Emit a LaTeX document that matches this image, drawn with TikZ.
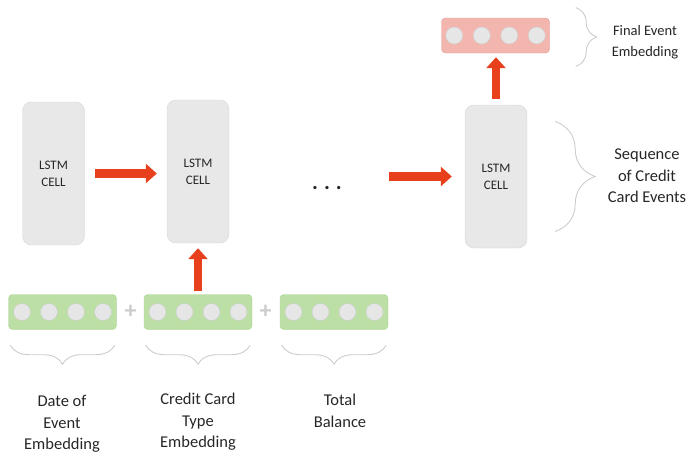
\documentclass[tikz,border=0pt]{standalone}
\usepackage{fontspec}
\setmainfont{Carlito}
\usetikzlibrary{arrows.meta,calc,decorations.pathreplacing}

\definecolor{cellfill}{HTML}{E8E8E8}
\definecolor{cellline}{HTML}{D6D6D6}
\definecolor{greenfill}{HTML}{BCDFA6}
\definecolor{greenline}{HTML}{A8D18D}
\definecolor{pinkfill}{HTML}{F2B6AE}
\definecolor{pinkline}{HTML}{E39C92}
\definecolor{dotfill}{HTML}{E6E6E6}
\definecolor{dotline}{HTML}{CFCFCF}
\definecolor{arrowred}{HTML}{E8401C}
\definecolor{bracegray}{HTML}{CCCCCC}
\definecolor{txtgray}{HTML}{262626}

\begin{document}
\begin{tikzpicture}[x=1pt,y=-1pt,
		cell/.style={draw=cellline,fill=cellfill,rounded corners=9pt,minimum width=62pt,minimum height=143pt,inner sep=0pt,align=center,text=txtgray,font=\fontsize{13}{17}\selectfont},
		embbox/.style={rounded corners=4pt,minimum width=108pt,minimum height=35pt,inner sep=0pt},
		embgreen/.style={embbox,draw=greenline,fill=greenfill},
		embpink/.style={embbox,draw=pinkline,fill=pinkfill},
		dot/.style={circle,draw=dotline,fill=dotfill,minimum size=17pt,inner sep=0pt},
		redarrow/.style={draw=arrowred,line width=8.5pt,-{Triangle[length=11pt,width=19pt]}},
		curly/.style={draw=bracegray,line width=0.9pt,decorate,decoration={brace,amplitude=#1}},
		plus/.style={text=bracegray,font=\fontsize{24}{24}\selectfont\bfseries,inner sep=0pt},
		label/.style={align=center,text=txtgray,inner sep=0pt,font=\fontsize{16.5}{21.5}\selectfont}]
		\useasboundingbox (0,0) rectangle (690,458);
		% lstm cells
		\node[cell] (cell1) at (53.5,173.5) {LSTM\\CELL};
		\node[cell] (cell2) at (198,171.5) {LSTM\\CELL};
		\node[cell] (cell3) at (496,176.5) {LSTM\\CELL};
		\node[text=txtgray,font=\fontsize{22}{22}\selectfont\bfseries,inner sep=0pt] (dots) at (327,188) {.\hspace{6pt}.\hspace{6pt}.};
		% input embeddings
		\foreach \n/\x in {1/62.5,2/198,3/334} {
			\node[embgreen] (emb\n) at (\x,312) {};
			\foreach \i [count=\k] in {-1.5,-0.5,0.5,1.5}
				\node[dot] (emb\n-\k) at ($(emb\n)+(27*\i,0)$) {};
		}
		\node[plus] (plus1) at (130.5,312) {+};
		\node[plus] (plus2) at (265.5,312) {+};
		% final embedding
		\node[embpink] (final) at (495.5,35.5) {};
		\foreach \i [count=\k] in {-1.5,-0.5,0.5,1.5}
			\node[dot] (final-\k) at ($(final)+(27.5*\i,0)$) {};
		% arrows
		\draw[redarrow,shorten <=10pt,shorten >=10pt] (cell1.east) -- (cell1.east -| cell2.west);
		\draw[redarrow,shorten <=47pt,shorten >=13pt] (dots.east |- cell3) -- (cell3.west);
		\draw[redarrow,shorten <=3pt,shorten >=5pt] (emb2.north) -- (cell2.south);
		\draw[redarrow,shorten <=6pt,shorten >=4pt] (cell3.north) -- (cell3.north |- final.south);
		% braces
		\foreach \n in {1,2,3}
			\draw[curly=19pt] ($(emb\n.south east)+(-2,15.5)$) -- ($(emb\n.south west)+(2,15.5)$);
		\draw[curly=40pt] ($(cell3.east)+(28,-55)$) -- ($(cell3.east)+(28,55)$);
		\draw[curly=21pt] ($(final.east)+(26,-28)$) -- ($(final.east)+(26,31)$);
		% labels
		\node[label,anchor=north] (lab1) at (62,395) {Date of\\Event\\Embedding};
		\node[label,anchor=north] (lab2) at (198,393) {Credit Card\\Type\\Embedding};
		\node[label,anchor=north] (lab3) at (340,394) {Total\\Balance};
		\node[label] (lab4) at (647,176) {Sequence\\of Credit\\Card Events};
		\node[label,font=\fontsize{14.5}{21}\selectfont] (lab5) at (645,42.5) {Final Event\\Embedding};
	\end{tikzpicture}
\end{document}
